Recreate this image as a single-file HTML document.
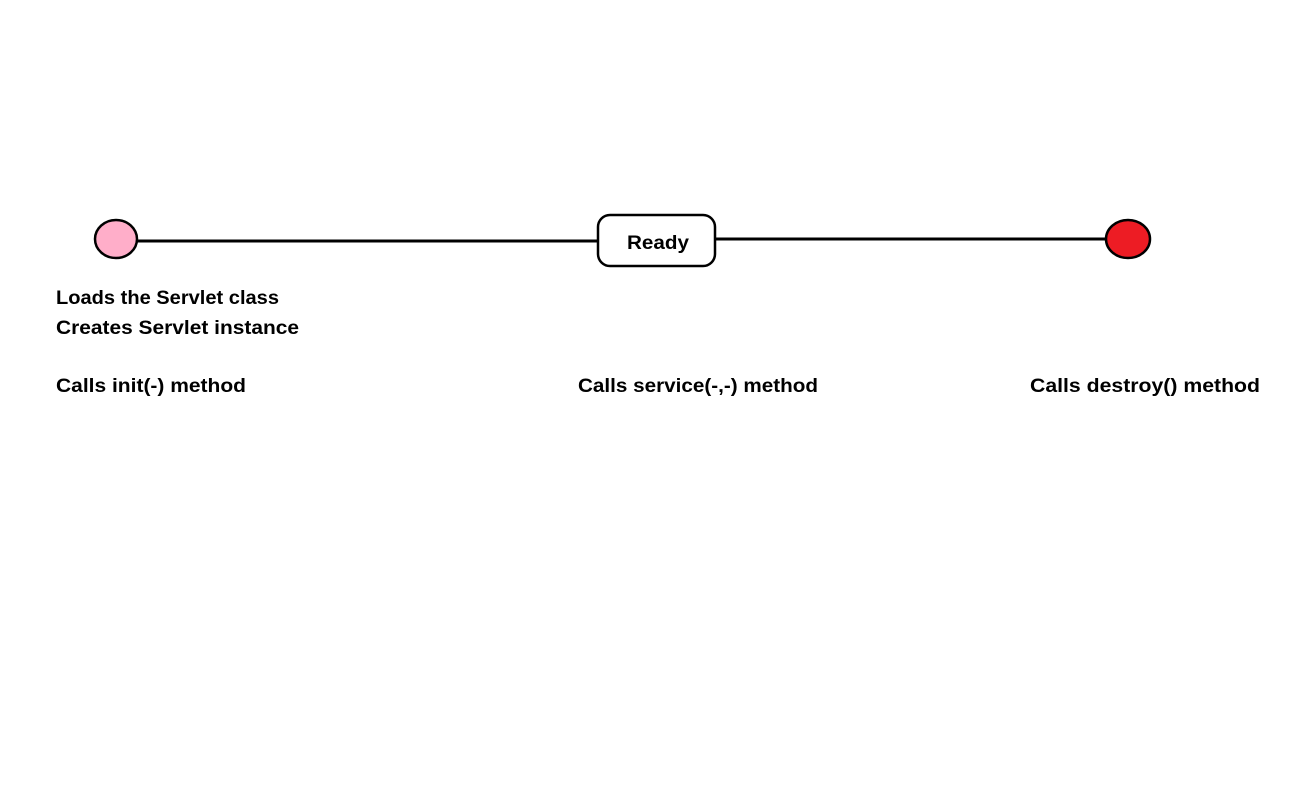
<!DOCTYPE html>
<html><head><meta charset="utf-8"><style>html,body{margin:0;padding:0;background:#fff}svg{display:block}</style></head>
<body>
<svg width="1297" height="797" xmlns="http://www.w3.org/2000/svg" font-family="'Liberation Sans', sans-serif" font-weight="bold" font-size="19.5">
<rect width="1297" height="797" fill="#fff"/>
<line x1="137" y1="241" x2="599" y2="241" stroke="#000" stroke-width="3"/>
<line x1="714" y1="239" x2="1107" y2="239" stroke="#000" stroke-width="3"/>
<ellipse cx="116" cy="239" rx="21" ry="19" fill="#FFAEC9" stroke="#000" stroke-width="2.5"/>
<ellipse cx="1128" cy="239" rx="22" ry="19" fill="#ED1C24" stroke="#000" stroke-width="2.5"/>
<rect x="598" y="215" width="117" height="51" rx="12" ry="12" fill="#fff" stroke="#000" stroke-width="2.5"/>
<text x="627" y="249" textLength="62" lengthAdjust="spacingAndGlyphs">Ready</text>
<text x="56" y="304" textLength="223" lengthAdjust="spacingAndGlyphs">Loads the Servlet class</text>
<text x="56" y="334" textLength="243" lengthAdjust="spacingAndGlyphs">Creates Servlet  instance</text>
<text x="56" y="392" textLength="190" lengthAdjust="spacingAndGlyphs">Calls init(-) method</text>
<text x="578" y="392" textLength="240" lengthAdjust="spacingAndGlyphs">Calls service(-,-) method</text>
<text x="1030" y="392" textLength="230" lengthAdjust="spacingAndGlyphs">Calls  destroy() method</text>
</svg>
</body></html>
